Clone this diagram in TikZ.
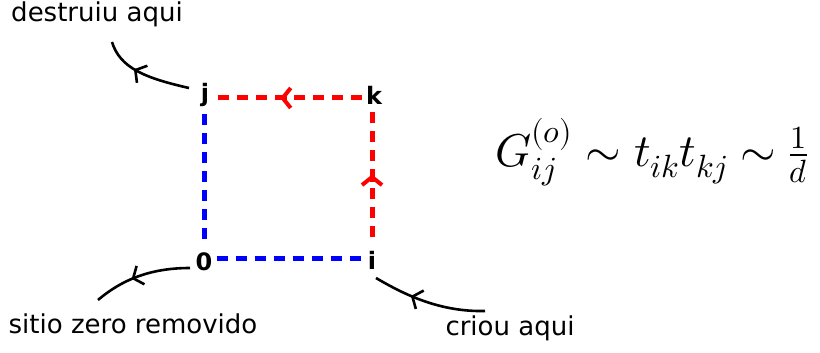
\documentclass[tikz,border=0pt]{standalone}
\usepackage{fontspec}
\setmainfont{DejaVu Sans}
\usepackage{unicode-math}
\setmathfont{Latin Modern Math}
\usetikzlibrary{arrows.meta,decorations.markings}
\tikzset{
  lbl/.style={font=\fontsize{26}{28}\selectfont, inner sep=0pt},
  site/.style={font=\bfseries\fontsize{24}{26}\selectfont, inner sep=4pt},
  bond/.style={line width=5pt, dash pattern=on 11pt off 8pt},
  midarrow/.style={postaction={decorate}, decoration={markings,
     mark=at position #1 with {\draw[solid, line width=5pt] (-7pt,0) -- (3pt,0);
       \arrow{Straight Barb[length=8pt,width=20pt,line width=4pt]}}}},
  pointer/.style={line width=2.6pt, postaction={decorate}, decoration={markings,
     mark=at position #1 with {\arrow{Straight Barb[length=8pt,width=20pt,line width=2.6pt]}}}}
}
\begin{document}
\begin{tikzpicture}[x=1pt,y=-1pt]
\useasboundingbox (0,0) rectangle (820,353);
\node[site] (j) at (205,95) {j};
\node[site] (k) at (374,95) {k};
\node[site] (o) at (204,262) {0};
\node[site] (i) at (372,260) {i};
\draw[bond, red, midarrow=0.55] (k.west |- 0,98) -- (j.east |- 0,98);
\draw[bond, red, midarrow=0.5] (372,237) -- (372,112);
\draw[bond, blue] (204,114) -- (204,246);
\draw[bond, blue] (o.east |- 0,258) -- (i.west |- 0,258);
\node[lbl] (t1) at (97,14) {destruiu aqui};
\node[lbl] (t2) at (133,324) {sitio zero removido};
\node[lbl] (t3) at (510,328) {criou aqui};
\coordinate (e1) at (112,42);
\coordinate (e2) at (98,300);
\coordinate (e3) at (485,311);
\draw[pointer=0.62] (189,88) .. controls (145,78) and (120,68) .. (e1);
\draw[pointer=0.6] (190,268) .. controls (155,268) and (125,277) .. (e2);
\draw[pointer=0.66] (e3) .. controls (440,312) and (405,295) .. (376,278);
\node[inner sep=0pt, font=\fontsize{46}{50}\selectfont] (f) at (652,152)
  {$G_{ij}^{(o)} \sim t_{ik}t_{kj} \sim \tfrac{1}{d}$};
\end{tikzpicture}
\end{document}
